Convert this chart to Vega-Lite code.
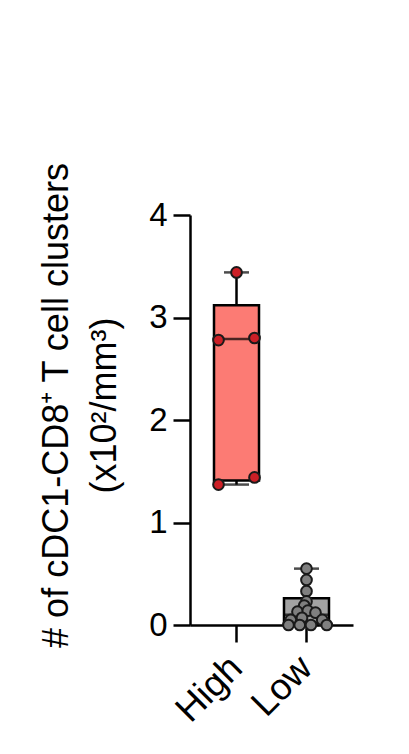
{
  "$schema": "https://vega.github.io/schema/vega-lite/v6.json",
  "width": 163,
  "height": 410,
  "autosize": "none",
  "padding": {"left": 190, "top": 215, "right": 56, "bottom": 129},
  "background": "white",
  "config": {
    "view": {"stroke": null},
    "font": "Liberation Sans",
    "axis": {
      "domainColor": "black", "domainWidth": 2.5, "tickColor": "black", "tickWidth": 2.5,
      "tickSize": 17, "labelColor": "black", "labelFont": "Liberation Sans", "labelFontSize": 33,
      "titleFont": "Liberation Sans", "titleColor": "black", "grid": false
    }
  },
  "datasets": {
    "boxes": [
      {"group": "High", "lo": 1.37, "q1": 1.41, "med": 2.79, "q3": 3.12, "hi": 3.44},
      {"group": "Low", "lo": 0.0, "q1": 0.02, "med": 0.1, "q3": 0.26, "hi": 0.55}
    ],
    "points": [
      {"group": "High", "value": 3.44, "slot": 0},
      {"group": "High", "value": 2.78, "slot": -4},
      {"group": "High", "value": 2.8, "slot": 4},
      {"group": "High", "value": 1.37, "slot": -4},
      {"group": "High", "value": 1.44, "slot": 4},
      {"group": "Low", "value": 0.55, "slot": 0},
      {"group": "Low", "value": 0.44, "slot": 0},
      {"group": "Low", "value": 0.33, "slot": 0},
      {"group": "Low", "value": 0.23, "slot": 0},
      {"group": "Low", "value": 0.19, "slot": -0.5},
      {"group": "Low", "value": 0.13, "slot": -2},
      {"group": "Low", "value": 0.14, "slot": 0.3},
      {"group": "Low", "value": 0.12, "slot": 2},
      {"group": "Low", "value": 0.05, "slot": -3.5},
      {"group": "Low", "value": 0.07, "slot": -1},
      {"group": "Low", "value": 0.05, "slot": 3.5},
      {"group": "Low", "value": 0.0, "slot": -4},
      {"group": "Low", "value": 0.0, "slot": -1.5},
      {"group": "Low", "value": 0.0, "slot": 1},
      {"group": "Low", "value": 0.0, "slot": 4.5}
    ]
  },
  "encoding": {
    "x": {
      "field": "group", "type": "nominal", "sort": ["High", "Low"],
      "scale": {"domain": ["High", "Low"], "paddingInner": 0.357, "paddingOuter": 0.343},
      "axis": {"title": null, "labelAngle": -45, "labelAlign": "right", "labelBaseline": "middle", "labelPadding": 20, "labelFontSize": 37}
    }
  },
  "layer": [
    {
      "data": {"name": "boxes"},
      "mark": {"type": "bar", "stroke": "black", "strokeWidth": 2.5, "width": 45},
      "encoding": {
        "y": {
          "field": "q1", "type": "quantitative",
          "scale": {"domain": [0, 4], "nice": false},
          "axis": {
            "values": [0, 1, 2, 3, 4], "format": "d", "labelPadding": 6,
            "title": ["# of cDC1-CD8⁺ T cell clusters", "(x10²/mm³)"],
            "titleFontSize": 36, "titleFontWeight": "normal", "titleLineHeight": 48,
            "titleBaseline": "alphabetic", "titleX": -123, "titleY": 190
          }
        },
        "y2": {"field": "q3"},
        "color": {"field": "group", "type": "nominal", "scale": {"domain": ["High", "Low"], "range": ["#fc7b74", "#a3a3a3"]}, "legend": null}
      }
    },
    {
      "data": {"name": "boxes"},
      "mark": {"type": "rule", "color": "black", "strokeWidth": 2.5},
      "encoding": {"y": {"field": "q3", "type": "quantitative"}, "y2": {"field": "hi"}}
    },
    {
      "data": {"name": "boxes"},
      "mark": {"type": "rule", "color": "black", "strokeWidth": 2.5},
      "encoding": {"y": {"field": "lo", "type": "quantitative"}, "y2": {"field": "q1"}}
    },
    {
      "data": {"name": "boxes"},
      "mark": {"type": "tick", "color": "black", "size": 25, "thickness": 2.5, "orient": "horizontal"},
      "encoding": {"y": {"field": "hi", "type": "quantitative"}}
    },
    {
      "data": {"name": "boxes"},
      "mark": {"type": "tick", "color": "black", "size": 25, "thickness": 2.5, "orient": "horizontal"},
      "encoding": {"y": {"field": "lo", "type": "quantitative"}}
    },
    {
      "data": {"name": "boxes"},
      "mark": {"type": "tick", "color": "black", "size": 45, "thickness": 2.5, "orient": "horizontal"},
      "encoding": {"y": {"field": "med", "type": "quantitative"}}
    },
    {
      "data": {"name": "points"},
      "mark": {"type": "circle", "size": 115, "opacity": 1, "stroke": "#1a1a1a", "strokeWidth": 2},
      "encoding": {
        "y": {"field": "value", "type": "quantitative"},
        "xOffset": {"field": "slot", "type": "quantitative", "scale": {"domain": [-4, 4], "range": [4.5, 40.5]}},
        "fill": {"field": "group", "type": "nominal", "scale": {"domain": ["High", "Low"], "range": ["#cc1f26", "#7f7f7f"]}, "legend": null}
      }
    }
  ]
}
